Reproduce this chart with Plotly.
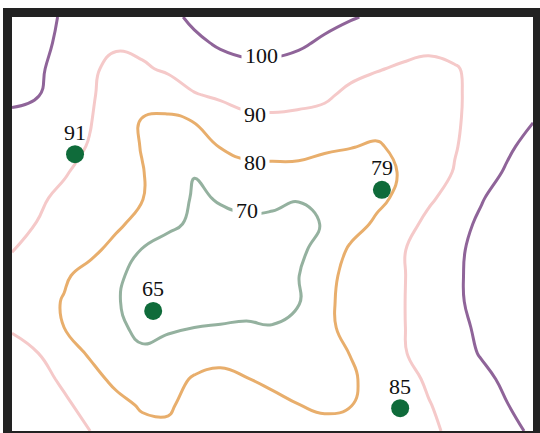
import plotly.graph_objects as go

# grid coordinates (data units)
xs = [0, 0.5, 1, 1.5, 2, 2.5, 3, 3.5, 4, 4.5, 5, 5.5, 6, 6.5, 7, 7.5, 8, 8.5, 9, 9.5, 10]
ys = [0, 0.5, 1, 1.5, 2, 2.5, 3, 3.5, 4, 4.5, 5, 5.5, 6, 6.5, 7, 7.5, 8]

# field values (rows = ys, cols = xs)
z_y00 = [99, 96.5, 93, 90, 86.4, 82.5, 81, 83, 85, 85.5, 85, 84, 82, 82.5, 84.5, 86.5, 88.5, 91.7, 95, 98.1, 101]
z_y05 = [97.5, 94.5, 91.5, 87, 82.6, 79, 79.3, 82, 83.5, 83.5, 82, 80.1, 79, 79.8, 82.9, 85, 89.6, 93, 97, 99.8, 102.5]
z_y10 = [96, 93, 88.5, 83, 78, 76.5, 77.5, 80.7, 82, 80.3, 78.5, 77.1, 77.5, 79, 82.6, 87.1, 91.2, 94.7, 98, 101.5, 105]
z_y15 = [93.5, 90.1, 84, 79, 75, 71.5, 73, 76.5, 77.5, 76, 74.5, 74.5, 77, 80.2, 84.6, 89.3, 93.5, 96.8, 100.5, 104, 107]
z_y20 = [89, 85, 80, 76.1, 72.1, 67.5, 69, 70, 70.8, 71.5, 70.4, 72, 78, 82.5, 86, 89.6, 93.5, 97.6, 101.5, 105, 108]
z_y25 = [85.5, 83, 79.5, 75.1, 70.8, 66, 64, 64, 64.5, 65.5, 67, 69.5, 78.1, 82.8, 86.2, 89.6, 94, 98.3, 103, 106.5, 109]
z_y30 = [87, 85, 81, 77.2, 71.5, 67, 64.5, 64, 64, 64.5, 66, 69.8, 77.5, 82.4, 86, 89.5, 94, 98.5, 103, 106.5, 109]
z_y35 = [90.3, 88, 84.7, 81.9, 77.5, 69.5, 66.5, 65.5, 65.5, 66, 67, 68.5, 72.9, 81.5, 86, 89.5, 93.7, 98, 103, 106, 109]
z_y40 = [91.5, 89.8, 87, 83.5, 81.4, 77.3, 71.8, 68.5, 68.5, 68.3, 68, 68.3, 70.4, 76, 81.6, 86.9, 92, 96.7, 101.5, 106, 110]
z_y45 = [93, 91, 88.5, 85.5, 82.6, 80.3, 74.8, 69, 70.5, 72.5, 72, 70.3, 70.8, 74.3, 77.7, 82.4, 88.8, 93, 99.3, 104, 108]
z_y50 = [95, 93, 90.6, 87.5, 83.8, 80.4, 75, 70.3, 76, 77.5, 77.8, 78, 76, 76.4, 77.5, 80.7, 85.8, 90.5, 96, 101, 106]
z_y55 = [97, 95, 92.5, 89.5, 84.8, 79.5, 75.2, 76.7, 80.3, 82.7, 83, 82.5, 81.5, 80.3, 79.2, 81.9, 85.6, 89.5, 93.7, 98.5, 103]
z_y60 = [99, 97.5, 94.5, 90.4, 84.9, 79.5, 78.5, 80.3, 85, 88, 88.5, 88, 87, 85.5, 83, 83, 85.8, 89.2, 92.5, 96.3, 99.7]
z_y65 = [101, 100.3, 96, 90.8, 87, 83.5, 84.5, 89.5, 91.5, 93.3, 93.3, 92.7, 91.5, 88, 86.5, 86.5, 86.5, 89.2, 92, 95, 98]
z_y70 = [104, 101.5, 96, 91.2, 88, 88.7, 91.5, 94.7, 97, 98.5, 98.5, 97.5, 95.5, 92.5, 90.5, 89, 88, 89.5, 92, 94, 95.5]
z_y75 = [106, 102.5, 98, 93, 91, 92.5, 95, 98.5, 101, 102, 102, 101, 99, 97, 95, 93, 92, 92.5, 93, 94, 95]
z_y80 = [108, 103, 99, 96, 94, 95, 98, 101.5, 103, 104, 104, 103, 102, 100.5, 99, 97, 96, 95.5, 95, 95, 96]

z_rows = [z_y00, z_y05, z_y10, z_y15, z_y20, z_y25, z_y30, z_y35, z_y40,
          z_y45, z_y50, z_y55, z_y60, z_y65, z_y70, z_y75, z_y80]

# contour levels and their inline labels
levels = [70, 80, 90, 100]
level_colors = ["#94b19f", "#e8ae6c", "#f5c9c9", "#8f6499"]
label_x = [4.51, 4.66, 4.66, 4.78]
label_y = [4.26, 5.19, 6.12, 7.26]

# sample points
pt_x = [1.21, 7.10, 2.71, 7.45]
pt_y = [5.35, 4.66, 2.32, 0.44]
pt_val = [91, 79, 65, 85]

FONT = "Liberation Serif"

# plot-area geometry (pixels)
W, H = 540, 433
ML, MR, MT, MB = 12, 7, 17, 2
PW, PH = W - ML - MR, H - MT - MB
BORDER = 9

cscale = [
    [0.0, level_colors[0]], [0.2, level_colors[0]],
    [0.2, level_colors[1]], [0.5, level_colors[1]],
    [0.5, level_colors[2]], [0.8, level_colors[2]],
    [0.8, level_colors[3]], [1.0, level_colors[3]],
]

fig = go.Figure()
fig.add_trace(go.Contour(
    x=xs, y=ys, z=z_rows,
    contours=dict(start=levels[0], end=levels[-1], size=10,
                  coloring="lines", showlabels=False),
    line=dict(width=3, smoothing=1.3),
    colorscale=cscale, zmin=levels[0], zmax=levels[-1],
    showscale=False, hoverinfo="skip",
))
fig.add_trace(go.Scatter(
    x=pt_x, y=pt_y, mode="markers",
    marker=dict(size=18, color="#0f6b3a"),
    hoverinfo="skip", showlegend=False,
))

for lv, lx, ly in zip(levels, label_x, label_y):
    fig.add_annotation(x=lx, y=ly, text=str(lv), showarrow=False,
                       font=dict(family=FONT, size=22, color="#111111"),
                       bgcolor="white", borderpad=3,
                       xanchor="center", yanchor="middle")

for px, py, v in zip(pt_x, pt_y, pt_val):
    fig.add_annotation(x=px, y=py, text=str(v), showarrow=False,
                       font=dict(family=FONT, size=22, color="#111111"),
                       xanchor="center", yanchor="middle", yshift=22)

# thick frame just outside the plotting area
hx = BORDER / 2 / PW
hy = BORDER / 2 / PH
fig.add_shape(type="rect", xref="paper", yref="paper",
              x0=-hx, x1=1 + hx, y0=-hy, y1=1 + hy,
              line=dict(color="#222222", width=BORDER), layer="above")

axis_common = dict(showgrid=False, zeroline=False, showticklabels=False,
                   ticks="", showline=False)
fig.update_xaxes(range=[0, 10], **axis_common)
fig.update_yaxes(range=[0, 8], **axis_common)

fig.update_layout(
    width=W, height=H,
    margin=dict(l=ML, r=MR, t=MT, b=MB, pad=0),
    paper_bgcolor="white", plot_bgcolor="white",
    showlegend=False,
)

fig.write_html(
    "out.html",
    config={"displayModeBar": False},
    post_script="document.body.style.margin='0';document.body.style.padding='0';",
)
